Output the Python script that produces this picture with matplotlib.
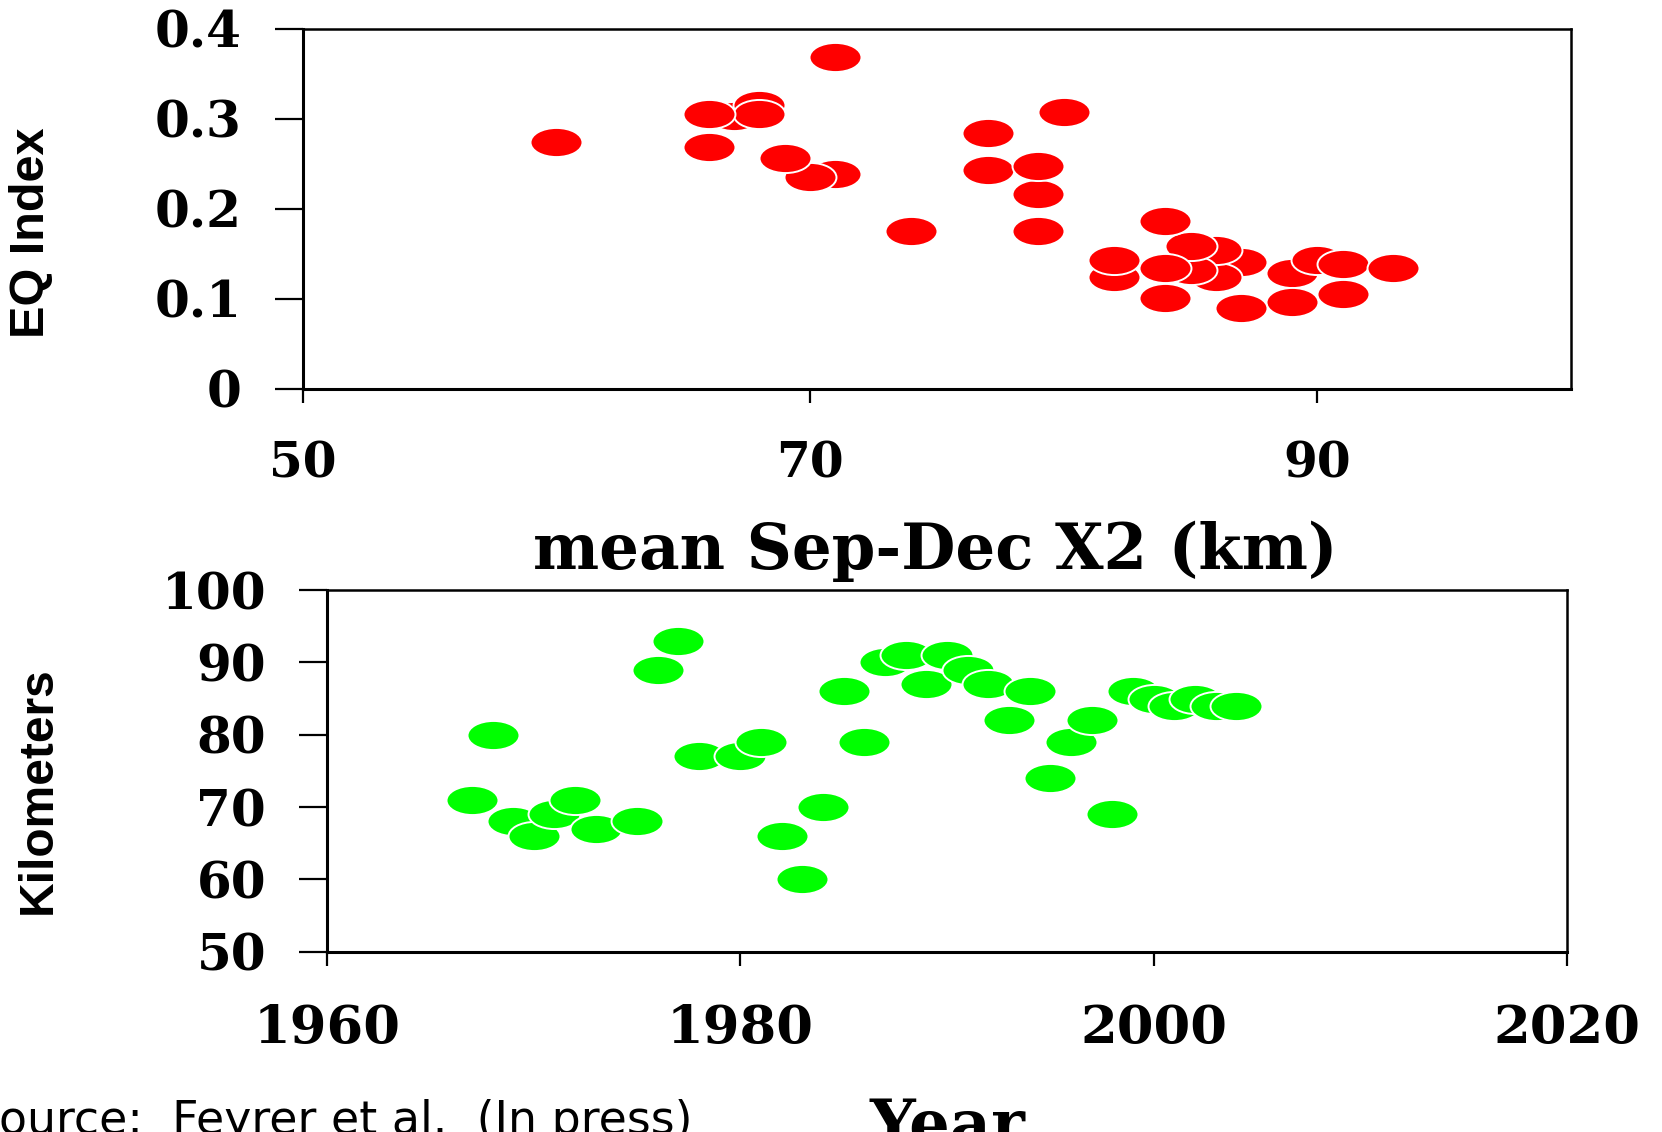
import numpy as np
import matplotlib
matplotlib.use("Agg")
import matplotlib.pyplot as plt
from matplotlib.path import Path
from matplotlib.markers import MarkerStyle
from matplotlib.transforms import Affine2D

# ---- data: top panel (EQ index vs mean Sep-Dec X2), back-to-front drawing order
x2_sepdec = [67, 68, 87, 86, 86, 85, 85, 84, 82, 82, 84, 84,
             89, 90, 91, 89, 91, 93, 87,
             68, 66, 60, 66, 71, 70, 69, 71, 74,
             77, 79, 79, 77, 80, 79]
eq_index = [0.303, 0.316, 0.141, 0.124, 0.155, 0.132, 0.159, 0.134, 0.125, 0.143, 0.101, 0.187,
            0.129, 0.143, 0.1385, 0.097, 0.106, 0.134, 0.090,
            0.306, 0.306, 0.274, 0.269, 0.2385, 0.236, 0.257, 0.369, 0.176,
            0.243, 0.217, 0.248, 0.285, 0.308, 0.176]

# ---- data: bottom panel (annual X2 by year)
years = [1967, 1968, 1969, 1970, 1971, 1972, 1973, 1975, 1976, 1977, 1978,
         1980, 1981, 1982, 1983, 1984, 1985, 1986, 1987, 1988, 1989, 1990,
         1991, 1992, 1993, 1994, 1995, 1996, 1997, 1998, 1999, 2000, 2001,
         2002, 2003, 2004]
x2_km = [71, 80, 68, 66, 69, 71, 67, 68, 89, 93, 77,
         77, 79, 66, 60, 70, 86, 79, 90, 91, 87, 91,
         89, 87, 82, 86, 74, 79, 82, 69, 86, 85, 84,
         85, 84, 84]

top_xticks = [50, 70, 90]
top_yticks = [0, 0.1, 0.2, 0.3, 0.4]
top_ylabels = ["0", "0.1", "0.2", "0.3", "0.4"]
bot_xticks = [1960, 1980, 2000, 2020]
bot_yticks = [50, 60, 70, 80, 90, 100]

W, H = 1662, 1132
fig = plt.figure(figsize=(W / 100, H / 100), dpi=100)

# flattened ellipse marker (the original chart is stretched sideways)
ell = MarkerStyle(Affine2D().scale(1, 0.56).transform_path(Path.unit_circle()))
SERIF = "DejaVu Serif"
SANS = "Liberation Sans"


def style(ax, ytick_fs, xtick_fs):
    for side in ["left", "bottom"]:
        ax.spines[side].set_linewidth(2.2)
    for side in ["top", "right"]:
        ax.spines[side].set_linewidth(1.8)
    ax.tick_params(axis="y", direction="out", length=20, width=1.6, pad=24)
    ax.tick_params(axis="x", direction="out", length=10, width=1.6, pad=27)
    for lab in ax.get_xticklabels() + ax.get_yticklabels():
        lab.set_fontfamily(SERIF)
        lab.set_fontweight("bold")
    for lab in ax.get_yticklabels():
        lab.set_fontsize(ytick_fs)
    for lab in ax.get_xticklabels():
        lab.set_fontsize(xtick_fs)


# ================= top panel
ax1 = fig.add_axes([302.7 / W, 1 - 389 / H, (1571 - 302.7) / W, 360 / H])
ax1.scatter(x2_sepdec, eq_index, s=1400, marker=ell, c="#ff0000",
            edgecolors="white", linewidths=1.4, zorder=3, clip_on=False)
ax1.set_xlim(50, 100)
ax1.set_ylim(0, 0.4)
ax1.set_xticks(top_xticks)
ax1.set_yticks(top_yticks)
ax1.set_yticklabels(top_ylabels)
style(ax1, 36, 35)

# ================= bottom panel
ax2 = fig.add_axes([327.2 / W, 1 - 951.7 / H, (1567 - 327.2) / W, 361.7 / H])
ax2.scatter(years, x2_km, s=1400, marker=ell, c="#00ff00",
            edgecolors="white", linewidths=1.4, zorder=3, clip_on=False)
ax2.set_xlim(1960, 2020)
ax2.set_ylim(50, 100)
ax2.set_xticks(bot_xticks)
ax2.set_yticks(bot_yticks)
style(ax2, 36, 38)

# ================= labels
fig.text(31.7 / W, 1 - 233 / H, "EQ Index", rotation=90, ha="center", va="center",
         family=SANS, weight="bold", fontsize=35)
fig.text(38 / W, 1 - 790 / H, "Kilometers", rotation=90, ha="center", va="center",
         family=SANS, weight="bold", fontsize=34.5)
fig.text(935 / W, 1 - 569 / H, "mean Sep-Dec X2 (km)", ha="center", va="baseline",
         family=SERIF, weight="bold", fontsize=45)
fig.text(947 / W, 1 - 1097 / H, "Year", ha="center", va="top",
         family=SERIF, weight="bold", fontsize=46)
fig.text(-30 / W, 1 - 1134 / H, "Source:  Feyrer et al.  (In press)", ha="left",
         va="baseline", family="DejaVu Sans", fontsize=33)

fig.savefig("out.png", dpi=100)
